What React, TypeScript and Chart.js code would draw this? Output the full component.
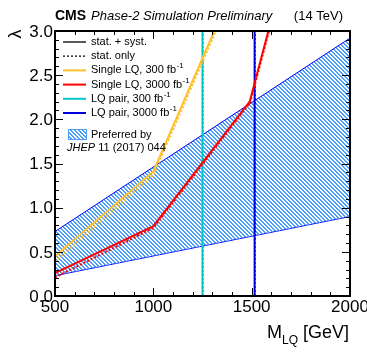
import React, { useEffect, useRef } from "react";
import { Chart, registerables } from "chart.js";
Chart.register(...registerables);

// ---- data ----
const xTickValues = [500, 1000, 1500, 2000];
const xTickLabels = ["500", "1000", "1500", "2000"];
const yTickValues = [0, 0.5, 1.0, 1.5, 2.0, 2.5, 3.0];
const yTickLabels = ["0.0", "0.5", "1.0", "1.5", "2.0", "2.5", "3.0"];

const bandMass = [500, 2000];
const bandUpper = [0.73, 2.92];
const bandLower = [0.23, 0.9];

const singleLQ300Mass = [500, 1000, 1310];
const singleLQ300Syst = [0.45, 1.41, 3.0];
const singleLQ300StatMass = [500, 1000, 1318];
const singleLQ300Stat = [0.39, 1.37, 3.0];

const singleLQ3000Mass = [500, 1000, 1490, 1585];
const singleLQ3000Syst = [0.26, 0.79, 2.2, 3.0];
const singleLQ3000StatMass = [500, 1000, 1492, 1588];
const singleLQ3000Stat = [0.21, 0.77, 2.19, 3.0];

const pairMassRange = [0, 3.0];
const pair300Mass = 1250;
const pair300StatMass = 1253;
const pair3000Mass = 1515;
const pair3000StatMass = 1518;

const legendLabels = ["stat. + syst.", "stat. only", "Single LQ, 300 fb", "Single LQ, 3000 fb", "LQ pair, 300 fb", "LQ pair, 3000 fb"];
const legendColors = ["#000000", "#000000", "#ffc02a", "#ff0000", "#00c8c8", "#0000dd"];

const COL_Y = "#ffc02a";
const COL_R = "#ff0000";
const COL_C = "#00c8c8";
const COL_B = "#0000dd";
const COL_BAND = "#0000ff";
const COL_HATCH = "#4da0fa";
const FONT = '"Liberation Sans", Arial, Helvetica, sans-serif';

function pts(xs: number[], ys: number[]) {
  return xs.map((x, i) => ({ x, y: ys[i] }));
}
function vline(m: number) {
  return pairMassRange.map((y) => ({ x: m, y }));
}

function makeHatch(): CanvasPattern | string {
  const c = document.createElement("canvas");
  const n = 4;
  c.width = n;
  c.height = n;
  const g = c.getContext("2d");
  if (!g) return COL_HATCH;
  g.fillStyle = COL_HATCH;
  for (let i = 0; i < n; i++) {
    g.fillRect(i, i, 1, 1);
    g.fillRect((i + 1) % n, i, 1, 1);
  }
  return g.createPattern(c, "repeat") || COL_HATCH;
}

function textWithSup(ctx: CanvasRenderingContext2D, main: string, sup: string, x: number, y: number, size: number) {
  ctx.font = `${size}px ${FONT}`;
  ctx.fillText(main, x, y);
  const w = ctx.measureText(main).width;
  ctx.font = `${Math.round(size * 0.7)}px ${FONT}`;
  ctx.fillText(sup, x + w + 0.5, y - size * 0.38);
}

const overlay = {
  id: "overlay",
  afterDatasetsDraw(chart: any) {
    const { ctx, chartArea: a, scales } = chart;
    const x = scales.x;
    const y = scales.y;
    ctx.save();
    ctx.strokeStyle = "#000";
    ctx.lineWidth = 1;
    for (let m = 500; m <= 2000; m += 100) {
      const px = Math.round(x.getPixelForValue(m)) + 0.5;
      const len = m % 500 === 0 ? 8 : 4;
      ctx.beginPath();
      ctx.moveTo(px, a.bottom);
      ctx.lineTo(px, a.bottom - len);
      ctx.moveTo(px, a.top);
      ctx.lineTo(px, a.top + len);
      ctx.stroke();
    }
    for (let i = 0; i <= 30; i++) {
      const py = Math.round(y.getPixelForValue(i / 10)) + 0.5;
      const len = i % 5 === 0 ? 8 : 4;
      ctx.beginPath();
      ctx.moveTo(a.left, py);
      ctx.lineTo(a.left + len, py);
      ctx.moveTo(a.right, py);
      ctx.lineTo(a.right - len, py);
      ctx.stroke();
    }
    ctx.lineWidth = 2;
    ctx.strokeRect(a.left, a.top, a.right - a.left, a.bottom - a.top);

    // legend
    const lx0 = 63;
    const lx1 = 86;
    const tx = 91;
    ctx.textBaseline = "middle";
    ctx.fillStyle = "#000";
    legendLabels.forEach((lab, i) => {
      const ly = 42 + i * 14.2;
      ctx.beginPath();
      ctx.strokeStyle = legendColors[i];
      ctx.lineWidth = i < 2 ? 1.3 : 2;
      ctx.setLineDash(i === 1 ? [2, 2] : []);
      ctx.moveTo(lx0, ly);
      ctx.lineTo(lx1, ly);
      ctx.stroke();
      ctx.setLineDash([]);
      ctx.fillStyle = "#000";
      if (i < 2) {
        ctx.font = `11px ${FONT}`;
        ctx.fillText(lab, tx, ly);
      } else {
        textWithSup(ctx, lab, "-1", tx, ly, 11);
      }
    });
    ctx.fillStyle = makeHatch();
    ctx.fillRect(68, 129, 19, 11);
    ctx.strokeStyle = COL_HATCH;
    ctx.lineWidth = 1;
    ctx.strokeRect(68.5, 129.5, 18, 10);
    ctx.fillStyle = "#000";
    ctx.font = `11px ${FONT}`;
    ctx.fillText("Preferred by", tx, 135);
    ctx.font = `italic 11px ${FONT}`;
    ctx.fillText("JHEP", 67, 148);
    const jw = ctx.measureText("JHEP ").width;
    ctx.font = `11px ${FONT}`;
    ctx.fillText("11 (2017) 044", 67 + jw, 148);
    ctx.restore();
  },
  afterDraw(chart: any) {
    const { ctx, chartArea: a, scales } = chart;
    const x = scales.x;
    const y = scales.y;
    ctx.save();
    ctx.fillStyle = "#000";
    ctx.font = `17px ${FONT}`;
    ctx.textAlign = "right";
    ctx.textBaseline = "middle";
    yTickValues.forEach((v, i) => {
      ctx.fillText(yTickLabels[i], a.left - 2, y.getPixelForValue(v) + 1);
    });
    ctx.textAlign = "center";
    ctx.textBaseline = "top";
    xTickValues.forEach((v, i) => {
      ctx.fillText(xTickLabels[i], x.getPixelForValue(v), a.bottom + 3);
    });
    ctx.textAlign = "left";
    ctx.textBaseline = "alphabetic";
    ctx.font = `bold 14px ${FONT}`;
    ctx.fillText("CMS", 55, 20);
    ctx.font = `italic 13px ${FONT}`;
    ctx.fillText("Phase-2 Simulation Preliminary", 91, 20);
    ctx.font = `13px ${FONT}`;
    ctx.textAlign = "right";
    ctx.fillText("(14 TeV)", 343, 20);
    ctx.save();
    ctx.translate(16, 34);
    ctx.rotate(-Math.PI / 2);
    ctx.textAlign = "center";
    ctx.textBaseline = "middle";
    ctx.font = `18px ${FONT}`;
    ctx.fillText("λ", 0, 0);
    ctx.restore();
    ctx.textAlign = "left";
    ctx.textBaseline = "alphabetic";
    const t1 = "M";
    const t3 = " [GeV]";
    ctx.font = `12px ${FONT}`;
    const w2 = ctx.measureText("LQ").width;
    ctx.font = `18px ${FONT}`;
    const w1 = ctx.measureText(t1).width;
    const w3 = ctx.measureText(t3).width;
    const start = 349 - (w1 + w2 + w3);
    ctx.fillText(t1, start, 338);
    ctx.font = `12px ${FONT}`;
    ctx.fillText("LQ", start + w1, 344);
    ctx.font = `18px ${FONT}`;
    ctx.fillText(t3, start + w1 + w2, 338);
    ctx.restore();
  },
};

export default function App() {
  const ref = useRef<HTMLCanvasElement>(null);
  useEffect(() => {
    document.body.style.margin = "0";
    const canvas = ref.current;
    if (!canvas) return;
    const hatch = makeHatch();
    const line = (data: any[], color: string, width: number, dashed: boolean, extra: any = {}) => ({
      data,
      borderColor: color,
      borderWidth: width,
      borderDash: dashed ? [2, 2] : [],
      showLine: true,
      pointRadius: 0,
      fill: false,
      order: 0,
      ...extra,
    });
    const chart = new Chart(canvas, {
      type: "scatter",
      data: {
        datasets: [
          line(pts(singleLQ300StatMass, singleLQ300Stat), COL_Y, 2, true),
          line(pts(singleLQ300Mass, singleLQ300Syst), COL_Y, 2, false),
          line(pts(singleLQ3000StatMass, singleLQ3000Stat), COL_R, 2, true),
          line(pts(singleLQ3000Mass, singleLQ3000Syst), COL_R, 2, false),
          line(vline(pair300StatMass), COL_C, 1.5, true),
          line(vline(pair300Mass), COL_C, 2, false),
          line(vline(pair3000StatMass), COL_B, 1, true),
          line(vline(pair3000Mass), COL_B, 2, false),
          line(pts(bandMass, bandUpper), COL_BAND, 1, false, { fill: "+1", backgroundColor: hatch, order: 2 }),
          line(pts(bandMass, bandLower), COL_BAND, 1, false, { order: 2 }),
        ],
      },
      options: {
        responsive: false,
        animation: false,
        devicePixelRatio: 1,
        layout: { padding: { left: 55, right: 17, top: 31, bottom: 58 } },
        plugins: { legend: { display: false }, tooltip: { enabled: false } },
        scales: {
          x: { type: "linear", min: 500, max: 2000, display: false },
          y: { type: "linear", min: 0, max: 3, display: false },
        },
        elements: { line: { tension: 0 } },
      },
      plugins: [overlay],
    } as any);
    return () => chart.destroy();
  }, []);
  return (
    <div style={{ position: "absolute", left: 0, top: 0, width: 367, height: 354 }}>
      <canvas ref={ref} width={367} height={354} />
    </div>
  );
}
